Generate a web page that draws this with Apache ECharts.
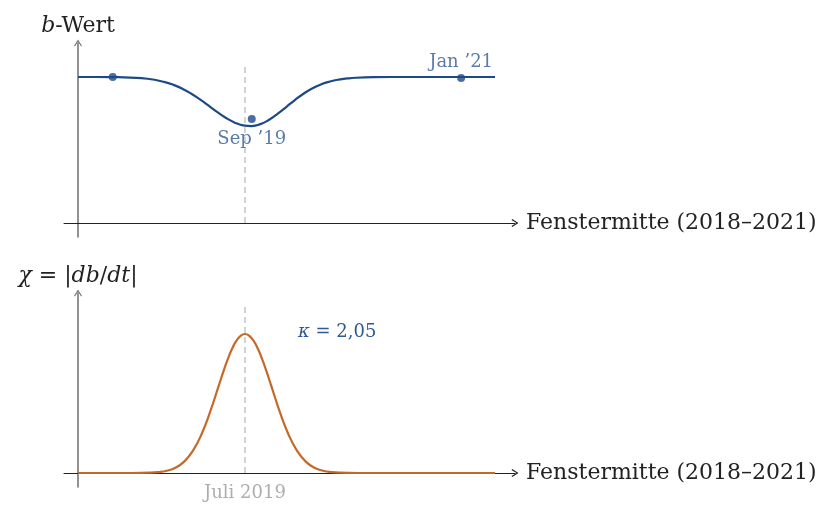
<!DOCTYPE html>
<html>
<head>
<meta charset="utf-8">
<script src="https://cdn.jsdelivr.net/npm/echarts@6/dist/echarts.min.js"></script>
<style>
html,body{margin:0;padding:0;background:#fff;}
#chart{width:821px;height:505px;}
</style>
</head>
<body>
<div id="chart"></div>
<script>
// ---- data ----
// time axis: window centre, arbitrary month-like units (0 = start 2018)
const bT    = [0, 2, 4, 6, 8, 10, 11, 12, 13, 14, 15, 16, 17, 18, 19, 20, 21, 22, 23, 24, 25, 26, 27, 28, 29, 30, 31, 32, 34, 36, 40, 44, 48];
const bVals = [1.000, 1.000, 0.999, 0.996, 0.988, 0.965, 0.946, 0.920, 0.887, 0.848, 0.805, 0.761, 0.721, 0.689, 0.669, 0.664, 0.677, 0.707, 0.749, 0.796, 0.844, 0.887, 0.923, 0.950, 0.969, 0.982, 0.990, 0.995, 0.999, 1.000, 1.000, 1.000, 1.000];

const chiT    = [0, 3.22, 6.22, 8.22, 9.22, 10.22, 11.22, 12.22, 13.22, 14.22, 15.22, 16.22, 16.72, 17.22, 17.72, 18.22, 18.72, 19.22, 19.72, 20.22, 20.72, 21.22, 21.72, 22.22, 23.22, 24.22, 25.22, 26.22, 27.22, 28.22, 29.22, 30.22, 32.22, 36, 40, 44, 48];
const chiVals = [0, 0, 0, 0.002, 0.006, 0.016, 0.038, 0.082, 0.159, 0.279, 0.442, 0.632, 0.727, 0.815, 0.892, 0.950, 0.987, 1.000, 0.987, 0.950, 0.892, 0.815, 0.727, 0.632, 0.442, 0.279, 0.159, 0.082, 0.038, 0.016, 0.006, 0.002, 0, 0, 0, 0, 0];

const pointT      = [4.0, 20.0, 44.1];
const pointB      = [1.000, 0.712, 0.993];
const pointLabels = ['', 'Sep \u201919', 'Jan \u201921'];

const markerT     = 19.22;           // Juli 2019
const markerLabel = 'Juli 2019';
const markerTopB  = 1.096;
const markerTopChi= 1.194;
const kappaText   = '2,05';

const xLabel   = 'Fenstermitte (2018\u20132021)';

// ---- styling ----
const SERIF = '"DejaVu Serif", "Liberation Serif", serif';
const BLUE = '#1d4a87';
const BLUE_TXT = '#2f5a95';
const ORANGE = '#c5692a';
const DASH = '#c4c4c4';
const ARROW = 'path://M5,0 L10,8 L9,9 L5,2.6 L1,9 L0,8 Z';
const MAIN = 22;
const SMALL = 18;

function xAxisDef(gridIndex) {
  return {
    type: 'value', gridIndex, min: -1.6115, max: 50.302,
    axisLine: { onZero: true, lineStyle: { color: '#222', width: 1 }, symbol: ['none', ARROW], symbolSize: [10, 7] },
    axisTick: { show: false }, axisLabel: { show: false }, splitLine: { show: false },
    name: xLabel, nameLocation: 'end', nameGap: 11,
    nameTextStyle: { fontFamily: SERIF, fontSize: MAIN, color: '#222', align: 'left', verticalAlign: 'middle' }
  };
}
function yAxisDef(gridIndex, min, max, name, rich) {
  return {
    type: 'value', gridIndex, min, max,
    axisLine: { onZero: true, lineStyle: { color: '#6e6e6e', width: 1.5 }, symbol: ['none', ARROW], symbolSize: [10, 7] },
    axisTick: { show: false }, axisLabel: { show: false }, splitLine: { show: false },
    name, nameLocation: 'end', nameGap: 6,
    nameTextStyle: { fontFamily: SERIF, fontSize: MAIN, color: '#222', align: 'center', rich }
  };
}
const richMath = {
  i: { fontFamily: SERIF, fontSize: MAIN, fontStyle: 'italic', color: '#222' },
  n: { fontFamily: SERIF, fontSize: MAIN, color: '#222' }
};

const zip = (a, b) => a.map((v, i) => [v, b[i]]);

const chart = echarts.init(document.getElementById('chart'), null, { renderer: 'canvas' });
chart.setOption({
  animation: false,
  backgroundColor: '#fff',
  grid: [
    { left: 64, top: 43, width: 451, height: 194 },
    { left: 64, top: 293, width: 451, height: 194 }
  ],
  xAxis: [xAxisDef(0), xAxisDef(1)],
  yAxis: [
    yAxisDef(0, -0.09589, 1.23288, '{i|b}{n|-Wert}', richMath),
    yAxisDef(1, -0.10072, 1.29496, '{i|\u03c7}{n| = |}{i|db}{n|/}{i|dt}{n||}', richMath)
  ],
  series: [
    {
      type: 'line', xAxisIndex: 0, yAxisIndex: 0, silent: true,
      data: [[markerT, 0], [markerT, markerTopB]], symbol: 'none',
      lineStyle: { color: DASH, width: 1.5, type: [6, 4] }, z: 1
    },
    {
      type: 'line', xAxisIndex: 0, yAxisIndex: 0, data: zip(bT, bVals),
      symbol: 'none', smooth: 0.5,
      lineStyle: { color: BLUE, width: 2.2 }, z: 3
    },
    {
      type: 'scatter', xAxisIndex: 0, yAxisIndex: 0,
      data: pointT.map((t, i) => ({
        value: [t, pointB[i]],
        label: {
          show: pointLabels[i] !== '', formatter: pointLabels[i],
          position: i === 1 ? 'bottom' : 'top', distance: i === 1 ? 7 : 3,
          fontFamily: SERIF, fontSize: SMALL, color: BLUE_TXT
        }
      })),
      symbol: 'circle', symbolSize: 8, itemStyle: { color: BLUE }, z: 4
    },
    {
      type: 'line', xAxisIndex: 1, yAxisIndex: 1, silent: true,
      data: [[markerT, 0], [markerT, markerTopChi]],
      symbol: 'none',
      lineStyle: { color: DASH, width: 1.5, type: [6, 4] }, z: 1
    },
    {
      type: 'scatter', xAxisIndex: 1, yAxisIndex: 1, silent: true,
      data: [[markerT, 0]], symbolSize: 0,
      label: { show: true, position: 'bottom', distance: 11, formatter: markerLabel,
        fontFamily: SERIF, fontSize: SMALL, color: '#999' },
      z: 2
    },
    {
      type: 'line', xAxisIndex: 1, yAxisIndex: 1, data: zip(chiT, chiVals),
      symbol: 'none', smooth: 0.5,
      lineStyle: { color: ORANGE, width: 2.2 }, z: 3
    }
  ],
  graphic: [
    {
      type: 'text', left: 298, top: 323,
      style: {
        text: '{i|\u03ba}{n| = ' + kappaText + '}',
        rich: {
          i: { fontFamily: SERIF, fontSize: SMALL, fontStyle: 'italic', fill: BLUE_TXT },
          n: { fontFamily: SERIF, fontSize: SMALL, fill: BLUE_TXT }
        }
      }
    }
  ]
});
</script>
</body>
</html>
